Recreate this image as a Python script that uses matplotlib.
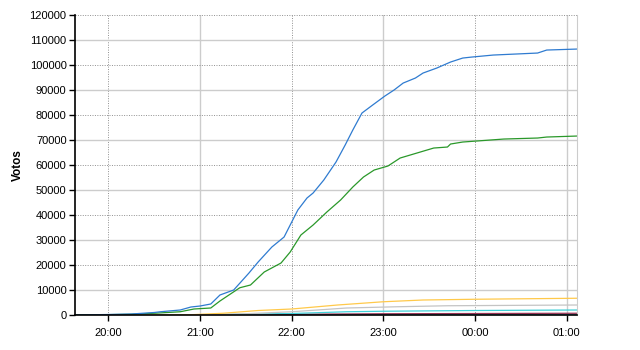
import datetime as dt
import matplotlib
matplotlib.use("Agg")
import matplotlib.pyplot as plt
import matplotlib.dates as mdates
from matplotlib.ticker import MultipleLocator

plt.rcParams['font.family'] = ['Liberation Sans', 'DejaVu Sans']

# readings taken from the chart: (clock time, votes)
blue_t = ["19:38", "20:00", "20:15", "20:30", "20:34", "20:47", "20:54", "21:00", "21:07",
          "21:13", "21:22", "21:32", "21:38", "21:47", "21:55", "21:59", "22:04", "22:10",
          "22:14", "22:21", "22:29", "22:35", "22:40", "22:46", "22:53", "23:01", "23:07",
          "23:13", "23:21", "23:26", "23:35", "23:44", "23:52", "23:58", "00:12", "00:41",
          "00:47", "01:07"]
blue_v = [0, 200, 400, 1000, 1300, 2000, 3200, 3600, 4400,
          8000, 10000, 16800, 21200, 27200, 31200, 36000, 42000, 46800,
          48800, 54000, 61200, 68000, 74000, 80800, 84000, 87600, 90000,
          92800, 94800, 96800, 98800, 101200, 102800, 103200, 104000, 104800,
          106000, 106400]

green_t = ["19:38", "20:00", "20:15", "20:30", "20:47", "20:56", "21:07", "21:13", "21:26",
           "21:33", "21:42", "21:53", "21:59", "22:06", "22:14", "22:23", "22:32", "22:40",
           "22:47", "22:54", "23:03", "23:11", "23:22", "23:33", "23:42", "23:44", "23:52",
           "00:19", "00:41", "00:47", "01:07"]
green_v = [0, 150, 300, 700, 1300, 2400, 2800, 5600, 10900,
           12000, 17200, 20800, 25200, 32000, 36000, 41200, 46000, 51200,
           55200, 58000, 59600, 62800, 64800, 66800, 67200, 68400, 69200,
           70400, 70800, 71200, 71600]

yellow_t = ["19:38", "20:50", "21:15", "21:38", "22:00", "22:30", "23:00", "23:26", "00:00", "01:07"]
yellow_v = [0, 0, 700, 1800, 2400, 4000, 5300, 6000, 6300, 6700]

gray_t = ["19:38", "21:00", "21:30", "22:00", "22:36", "23:09", "23:42", "01:07"]
gray_v = [0, 100, 500, 1300, 2800, 3300, 3700, 4000]

cyan_t = ["19:38", "21:00", "21:30", "22:00", "22:36", "23:00", "00:00", "01:07"]
cyan_v = [0, 100, 300, 600, 1300, 1500, 1800, 2000]

maroon_t = ["19:38", "21:30", "22:00", "23:00", "01:07"]
maroon_v = [0, 100, 300, 500, 700]

teal_t = ["19:38", "21:00", "22:00", "01:07"]
teal_v = [0, 50, 150, 250]

hour_ticks = ["20:00", "21:00", "22:00", "23:00", "00:00", "01:00"]


def to_time(s):
    h, m = map(int, s.split(":"))
    day = 1 if h >= 12 else 2
    return dt.datetime(2000, 1, day, h, m)


def times(lst):
    return [to_time(s) for s in lst]


fig = plt.figure(figsize=(6.4, 3.5), dpi=100)
ax = fig.add_axes([0.117, 0.1, 0.785, 0.857])

ax.set_xlim(to_time("19:38"), to_time("01:07"))
ax.set_ylim(0, 120000)

# grid: even steps dotted, odd steps solid light
dotted = dict(color="#909090", lw=0.7, ls=(0, (1, 1.5)), zorder=0)
solid = dict(color="#cccccc", lw=1.0, zorder=0)
for i, t in enumerate(hour_ticks):
    ax.axvline(to_time(t), **(dotted if i % 2 == 0 else solid))
for y in range(10000, 130000, 10000):
    ax.axhline(y, **(dotted if y % 20000 == 0 else solid))

ax.plot(times(teal_t), teal_v, color="#3a8fb0", lw=0.8)
ax.plot(times(maroon_t), maroon_v, color="#993355", lw=0.9)
ax.plot(times(cyan_t), cyan_v, color="#40d0d8", lw=0.9)
ax.plot(times(gray_t), gray_v, color="#c4c4c4", lw=0.9)
ax.plot(times(yellow_t), yellow_v, color="#ffc94a", lw=0.9)
ax.plot(times(green_t), green_v, color="#2a982a", lw=0.9)
ax.plot(times(blue_t), blue_v, color="#2f7bd0", lw=0.9)

ax.set_xticks(times(hour_ticks))
ax.xaxis.set_major_formatter(mdates.DateFormatter("%H:%M"))
ax.yaxis.set_major_locator(MultipleLocator(10000))
ax.tick_params(direction="out", length=4, width=1, labelsize=8, colors="black", pad=2)
ax.tick_params(axis="x", pad=5)

ax.set_ylabel("Votos", fontsize=8.5, fontweight="bold", labelpad=4)

ax.spines["top"].set_visible(False)
ax.spines["right"].set_color("#cccccc")
ax.spines["left"].set_linewidth(1.2)
ax.spines["bottom"].set_linewidth(1.2)

fig.savefig("out.png", dpi=100)
